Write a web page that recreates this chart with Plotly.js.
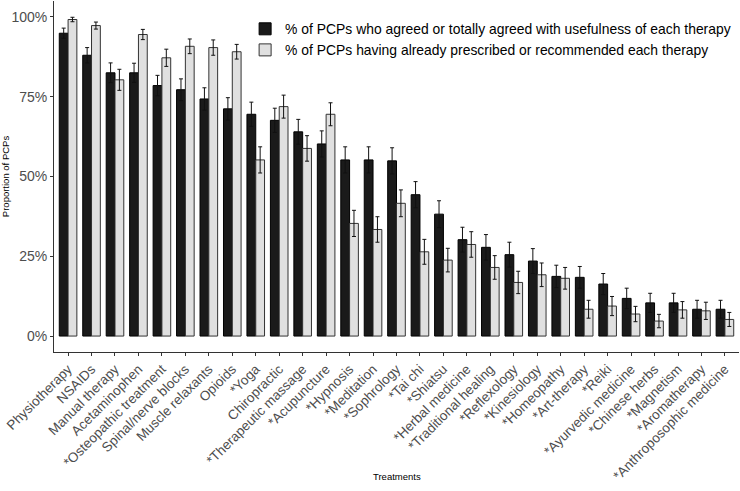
<!DOCTYPE html>
<html>
<head>
<meta charset="utf-8">
<script src="https://cdn.plot.ly/plotly-3.0.1.min.js"></script>
<style>
  body { margin: 0; background: #fff; }
  #chart { width: 740px; height: 491px; }
</style>
</head>
<body>
<div id="chart"></div>
<script>
// treatments, in the order of the figure
const treatments = ['Physiotherapy', 'NSAIDs', 'Manual therapy', 'Acetaminophen', '*Osteopathic treatment',
  'Spinal/nerve blocks', 'Muscle relaxants', 'Opioids', '*Yoga', 'Chiropractic', '*Therapeutic massage',
  '*Acupuncture', '*Hypnosis', '*Meditation', '*Sophrology', '*Tai chi', '*Shiatsu', '*Herbal medicine',
  '*Traditional healing', '*Reflexology', '*Kinesiology', '*Homeopathy', '*Art-therapy', '*Reiki',
  '*Ayurvedic medicine', '*Chinese herbs', '*Magnetism', '*Aromatherapy', '*Anthroposophic medicine'];

// % who agreed with usefulness
const agreed = [94.9, 88.0, 82.5, 82.5, 78.5, 77.2, 74.3, 71.2, 69.5, 67.6, 64.0, 60.2, 55.2, 55.2, 54.9,
  44.3, 38.2, 30.2, 27.8, 25.5, 23.5, 18.7, 18.4, 16.3, 11.8, 10.4, 10.4, 8.4, 8.4];
const agreedErr = [1.6, 2.4, 3.1, 3.0, 3.2, 3.4, 3.5, 3.5, 3.8, 3.8, 3.9, 4.1, 4.1, 4.1, 4.1,
  4.1, 4.2, 3.9, 4.0, 3.9, 3.9, 3.5, 3.4, 3.3, 3.2, 3.0, 3.0, 2.8, 2.8];

// % having already prescribed or recommended
const prescribed = [99.2, 97.3, 80.3, 94.5, 87.2, 90.8, 90.4, 89.1, 55.2, 71.9, 58.8, 69.5, 35.3, 33.4, 41.6,
  26.4, 23.8, 28.7, 21.5, 16.8, 19.2, 18.1, 8.4, 9.4, 6.9, 4.7, 8.2, 7.9, 5.2];
const prescribedErr = [0.7, 1.1, 3.3, 1.6, 2.7, 2.3, 2.4, 2.3, 4.1, 3.6, 4.0, 3.6, 4.1, 4.0, 4.2,
  3.9, 3.7, 4.0, 3.7, 3.5, 3.7, 3.4, 2.8, 3.0, 2.4, 2.1, 2.6, 2.7, 2.2];

const yTicks = [0, 25, 50, 75, 100];
const yTickLabels = ['0%', '25%', '50%', '75%', '100%'];

const data = [
  {
    x: treatments,
    y: agreed,
    type: 'bar',
    name: '% of PCPs who agreed or totally agreed with usefulness of each therapy',
    marker: { color: '#1a1a1a', line: { color: '#000000', width: 1 } },
    error_y: { type: 'data', array: agreedErr, visible: true, color: '#111', thickness: 1, width: 2 }
  },
  {
    x: treatments,
    y: prescribed,
    type: 'bar',
    name: '% of PCPs having already prescribed or recommended each therapy',
    marker: { color: '#e0e0e0', line: { color: '#333333', width: 1 } },
    error_y: { type: 'data', array: prescribedErr, visible: true, color: '#111', thickness: 1, width: 2 }
  }
];

const layout = {
  width: 740,
  height: 491,
  margin: { l: 54, r: 1, t: 1, b: 139, autoexpand: false },
  paper_bgcolor: '#ffffff',
  plot_bgcolor: '#ffffff',
  font: { family: 'Arial, "Liberation Sans", sans-serif', color: '#4d4d4d' },
  barmode: 'group',
  bargap: 0.25,
  bargroupgap: 0,
  showlegend: true,
  legend: {
    x: 0.279, y: 0.965, xanchor: 'left', yanchor: 'top',
    bgcolor: 'rgba(0,0,0,0)',
    font: { size: 13.9, color: '#000000' },
    tracegroupgap: 0
  },
  xaxis: {
    type: 'category',
    range: [-0.6, 28.6],
    tickangle: -45,
    tickfont: { size: 13.5, color: '#4d4d4d' },
    showline: true, linecolor: '#333333', linewidth: 1,
    ticks: 'outside', ticklen: 3, tickcolor: '#333333',
    showgrid: false, zeroline: false,
    automargin: false
  },
  yaxis: {
    range: [-5, 105],
    tickmode: 'array',
    tickvals: yTicks,
    ticktext: yTickLabels,
    tickfont: { size: 14, color: '#4d4d4d' },
    showline: true, linecolor: '#333333', linewidth: 1,
    ticks: 'outside', ticklen: 3, tickcolor: '#333333',
    showgrid: false, zeroline: false,
    automargin: false,
    title: { text: 'Proportion of PCPs', font: { size: 9.5, color: '#000000' }, standoff: 4 }
  },
  annotations: [
    {
      text: 'Treatments', xref: 'paper', yref: 'paper', x: 0.5, y: -0.355,
      xanchor: 'center', yanchor: 'middle', showarrow: false,
      font: { size: 9.5, color: '#000000' }
    }
  ]
};

Plotly.newPlot('chart', data, layout, { displayModeBar: false });
</script>
</body>
</html>
